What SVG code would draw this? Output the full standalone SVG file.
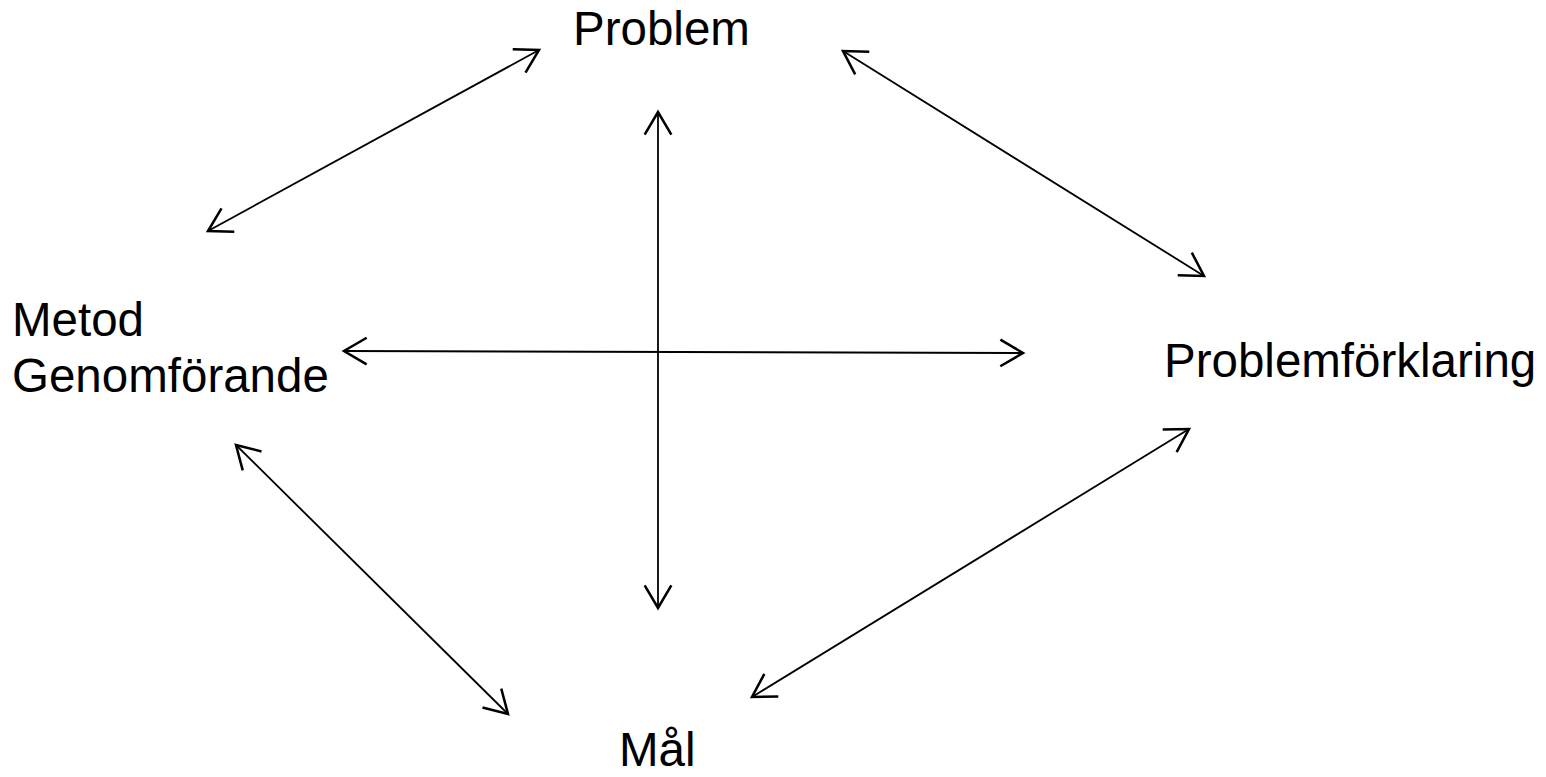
<svg xmlns="http://www.w3.org/2000/svg" width="1546" height="777" viewBox="0 0 1546 777">
<defs>
<style>
.lbl{font-family:"Liberation Sans",Arial,sans-serif;font-size:47.5px;fill:#000}
.c{stroke:#000;stroke-width:1.8;fill:none;marker-start:url(#ah);marker-end:url(#ah)}
</style>
<marker id="ah" markerUnits="userSpaceOnUse" markerWidth="40" markerHeight="40" refX="0" refY="0" viewBox="-25 -15 30 30" orient="auto-start-reverse" overflow="visible">
<path d="M-17,-10 L0,0 L-17,10" fill="none" stroke="#000" stroke-width="1.9"/>
</marker>
</defs>
<rect width="1546" height="777" fill="#fff"/>
<g id="connectors">
<line class="c" x1="539" y1="50" x2="208" y2="231"/>
<line class="c" x1="843" y1="51" x2="1204" y2="276"/>
<line class="c" x1="658" y1="112" x2="658" y2="608"/>
<line class="c" x1="344" y1="351" x2="1023" y2="353"/>
<line class="c" x1="236" y1="445" x2="508" y2="714"/>
<line class="c" x1="1189" y1="429" x2="752" y2="697"/>
</g>
<g id="problem"><text class="lbl" x="573" y="45">Problem</text></g>
<g id="metod"><text class="lbl" x="12" y="336">Metod</text><text class="lbl" x="12" y="392">Genomförande</text></g>
<g id="problemforklaring"><text class="lbl" x="1164" y="377">Problemförklaring</text></g>
<g id="mal"><text class="lbl" x="619" y="766">Mål</text></g>
</svg>
